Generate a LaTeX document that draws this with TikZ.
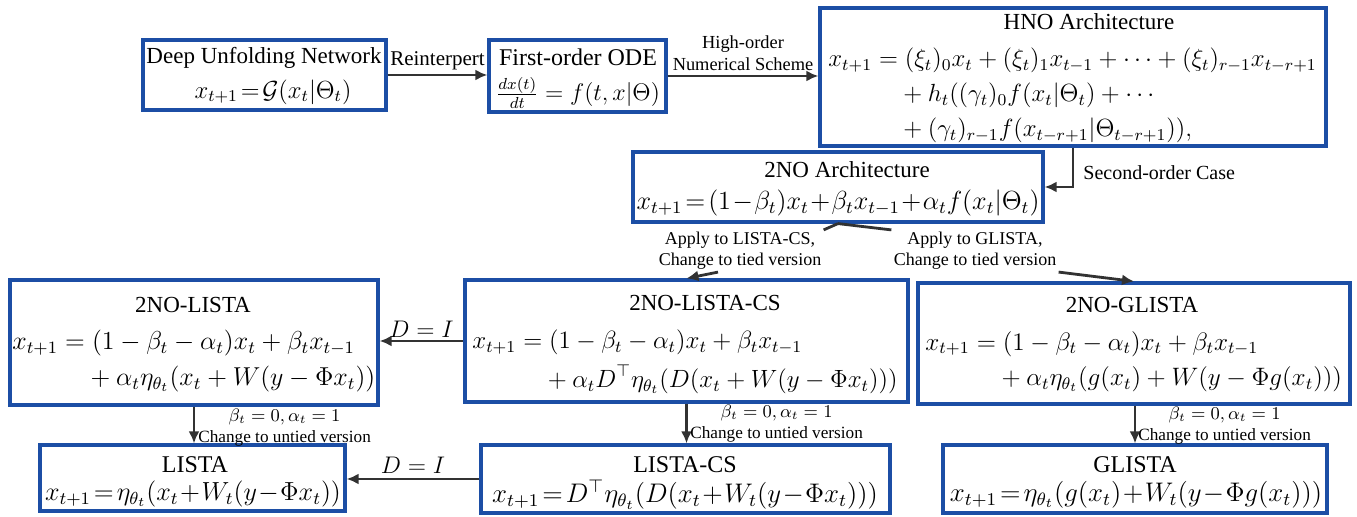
\documentclass[tikz,border=0pt]{standalone}
\usepackage{amsmath,amssymb}
\usepackage[no-math]{fontspec}
\setmainfont{Liberation Serif}
\usetikzlibrary{arrows.meta}
\definecolor{boxblue}{RGB}{28,78,165}
\definecolor{arrgray}{RGB}{50,50,50}
\tikzset{
 box/.style 2 args={draw=boxblue, line width=1.6pt, minimum width=#1*0.5pt, minimum height=#2*0.5pt, inner sep=0pt},
 arr/.style={draw=arrgray, line width=1.4pt, -{Latex[length=6pt,width=5.5pt]}},
 conn/.style={draw=arrgray, line width=1.4pt},
 ttl/.style={font=\fontsize{11.5}{13}\selectfont, inner sep=0pt},
 eq/.style={font=\fontsize{12}{14}\selectfont, inner sep=0pt},
 lbl/.style={font=\fontsize{9}{10.5}\selectfont, inner sep=1pt, align=center},
 slbl/.style={font=\fontsize{8.6}{10.5}\selectfont, inner sep=0pt, align=center},
}
\newcommand{\cplus}{\mkern-5mu{}+}
\begin{document}
\begin{tikzpicture}[x=0.5pt,y=-0.5pt]
\useasboundingbox (0,0) rectangle (1357,517);
% boxes
\node[box={243}{70}] (dun) at (264.5,75) {};
\node[box={177}{72}] (ode) at (577.5,76) {};
\node[box={506}{138}] (hno) at (1073,77) {};
\node[box={410}{70}] (twono) at (838,187) {};
\node[box={368}{125}] (lista2) at (194,342.5) {};
\node[box={443}{122}] (listacs2) at (686.5,341) {};
\node[box={432}{121}] (glista2) at (1134,343.5) {};
\node[box={305}{66}] (lista) at (192.5,478) {};
\node[box={409}{68}] (listacs) at (685.5,479) {};
\node[box={384}{68}] (glista) at (1135,479) {};
% texts
\node[ttl] (dunT) at (264,58) {Deep Unfolding Network};
\node[eq,scale=1.03] (dunE) at (273,92) {$x_{t+1}\!=\!\mathcal{G}(x_t|\Theta_t)$};
\node[ttl,font=\fontsize{12}{14}\selectfont] (odeT) at (578,57) {First-order ODE};
\node[eq] (odeE) at (578,93) {$\frac{dx(t)}{dt}=f(t,x|\Theta)$};
\node[ttl] (hnoT) at (1089,22) {HNO Architecture};
\node[eq,anchor=west,scale=1.035] (hnoE) at (828,96) {$\begin{aligned}x_{t+1} ={}& (\xi_t)_0x_t+(\xi_t)_1x_{t-1}+\cdots+(\xi_t)_{r-1}x_{t-r+1}\\
&\cplus h_t((\gamma_t)_0f(x_t|\Theta_t)+\cdots\\
&\cplus(\gamma_t)_{r-1}f(x_{t-r+1}|\Theta_{t-r+1})),\end{aligned}$};
\node[ttl] (twonoT) at (847,170) {2NO Architecture};
\node[eq,scale=1.09] (twonoE) at (838,203) {$x_{t+1}\!=\!(1\!-\!\beta_t)x_t\!+\!\beta_tx_{t-1}\!+\!\alpha_tf(x_t|\Theta_t)$};
\node[ttl] (lista2T) at (193,305) {2NO-LISTA};
\node[eq,anchor=west,scale=1.08] (lista2E) at (12,361.5) {$\begin{aligned}x_{t+1} ={}& (1-\beta_t-\alpha_t)x_t+\beta_tx_{t-1}\\
&\cplus\alpha_t\eta_{\theta_t}(x_t+W(y-\Phi x_t))\end{aligned}$};
\node[ttl] (listacs2T) at (705,303) {2NO-LISTA-CS};
\node[eq,anchor=west,scale=1.04] (listacs2E) at (472,362) {$\begin{aligned}x_{t+1} ={}& (1-\beta_t-\alpha_t)x_t+\beta_tx_{t-1}\\
&\cplus\alpha_tD^{\top}\eta_{\theta_t}(D(x_t+W(y-\Phi x_t)))\end{aligned}$};
\node[ttl] (glista2T) at (1132,305) {2NO-GLISTA};
\node[eq,anchor=west,scale=1.05] (glista2E) at (925,362) {$\begin{aligned}x_{t+1} ={}& (1-\beta_t-\alpha_t)x_t+\beta_tx_{t-1}\\
&\cplus\alpha_t\eta_{\theta_t}(g(x_t)+W(y-\Phi g(x_t)))\end{aligned}$};
\node[ttl,font=\fontsize{12}{14}\selectfont] (listaT) at (195,465) {LISTA};
\node[eq,scale=1.09] (listaE) at (193,494) {$x_{t+1}\!=\!\eta_{\theta_t}(x_t\!+\!W_t(y\!-\!\Phi x_t))$};
\node[ttl,font=\fontsize{12}{14}\selectfont] (listacsT) at (685,465) {LISTA-CS};
\node[eq,scale=1.12] (listacsE) at (685,495) {$x_{t+1}\!=\!D^{\top}\eta_{\theta_t}(D(x_t\!+\!W_t(y\!-\!\Phi x_t)))$};
\node[ttl,font=\fontsize{12}{14}\selectfont] (glistaT) at (1135,465) {GLISTA};
\node[eq,scale=1.12] (glistaE) at (1136,495) {$x_{t+1}\!=\!\eta_{\theta_t}(g(x_t)\!+\!W_t(y\!-\!\Phi g(x_t)))$};
% connectors
\draw[arr] (dun.east) -- (ode.west |- dun.east) node[midway,above=1pt,lbl,font=\fontsize{10.5}{12}\selectfont] (reint) {Reinterpert};
\draw[arr] (ode.east) -- (hno.west |- ode.east) node[midway,above=1pt,lbl,font=\fontsize{9.2}{10.8}\selectfont] (hos) {High-order\\Numerical Scheme};
\draw[arr] (hno.south) |- (twono.east);
\node[lbl,anchor=west,font=\fontsize{10}{12}\selectfont] (soc) at (1081,173) {Second-order Case};
\node[lbl] (lab1) at (740,251) {Apply to LISTA-CS,\\Change to tied version};
\node[lbl] (lab2) at (975,251) {Apply to GLISTA,\\Change to tied version};
\draw[conn] (twono.south) -- (lab1.north east);
\draw[conn] (twono.south) -- (lab2.north west);
\draw[arr] ([xshift=-11pt]lab1.south) -- (listacs2.north);
\draw[arr] (lab2.south east) -- (glista2.north);
\draw[arr] (listacs2.west) -- (lista2.east |- listacs2.west) node[midway,above=1pt,eq] (di1) {$D=I$};
\draw[arr] (listacs.west) -- (lista.east |- listacs.west) node[midway,above=2pt,eq] (di2) {$D=I$};
\draw[arr] (lista2.south) -- (lista2.south |- lista.north);
\node[slbl,anchor=west] (u1) at (198,428) {$\beta_t=0,\alpha_t=1$\\Change to untied version};
\draw[arr] (listacs2.south) -- (listacs2.south |- listacs.north);
\node[slbl,anchor=west] (u2) at (690,424) {$\beta_t=0,\alpha_t=1$\\Change to untied version};
\draw[arr] (glista2.south -| glista.north) -- (glista.north);
\node[slbl,anchor=west] (u3) at (1138,426) {$\beta_t=0,\alpha_t=1$\\Change to untied version};
\end{tikzpicture}
\end{document}
